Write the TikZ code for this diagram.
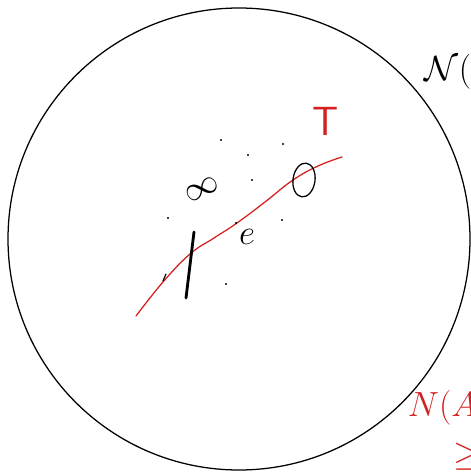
\documentclass[tikz,border=0pt]{standalone}
\usepackage{amsmath, amssymb}
\usepackage{xcolor}
\usepackage{tikz}
\usetikzlibrary{arrows.meta, calc}
\definecolor{pen}{HTML}{D42020}

\begin{document}
\begin{tikzpicture}[x=0.025cm, y=-0.025cm, >=Stealth, line cap=round]
    \useasboundingbox (0,0) rectangle (471,472);
    \clip (0,0) rectangle (471,472);
    % the neighbourhood
    \draw[line width=0.9pt] (239,239) circle (231);
    \node[anchor=west, font=\fontsize{30}{30}\selectfont] (nA) at (420,72) {$\mathcal{N}(A$};
    \node[anchor=west, pen, font=\fontsize{30}{30}\selectfont] (nAc) at (403,408) {$N(A^c$};
    \node[anchor=west, pen, font=\fontsize{30}{30}\selectfont] (geq) at (449,457) {$\geq$};
    % the curve T
    \draw[pen, line width=0.9pt] plot[smooth, tension=0.7] coordinates
        {(136,316) (163,282) (190,254) (214,238) (237,223) (265,202)
         (293,180) (318,166) (342,157)};
    \node[pen, font=\fontsize{29}{29}\selectfont\sffamily] (T) at (326,121) {T};
    % points inside
    \draw[line width=0.9pt, rotate around={-8:(304,180)}] (304,180) ellipse (11 and 17);
    \node[rotate=25, font=\fontsize{26}{26}\selectfont] (inf) at (202,189) {$\infty$};
    \node[font=\fontsize{26}{26}\selectfont] (e) at (247,237) {$e$};
    \draw[line width=2pt] (194,232) -- (186,298);
    \draw[line width=0.8pt] (163,281) -- (166,274);
    \foreach \p in {(221,140), (283,144), (248,155), (252,180), (168,218),
                    (236,223), (282,220), (226,284)}
        \fill \p circle (1.1);
\end{tikzpicture}
\end{document}
